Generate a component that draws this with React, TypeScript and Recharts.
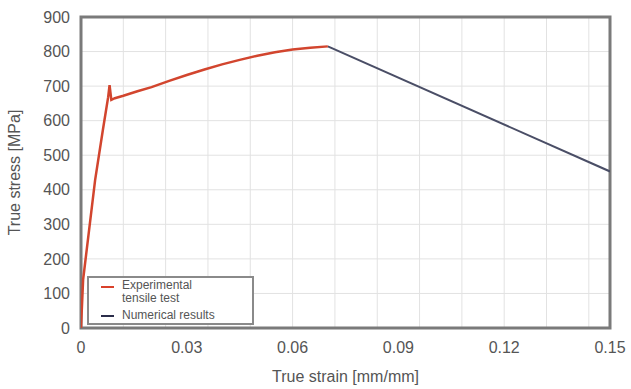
import React from "react";
import {
  ComposedChart,
  Line,
  XAxis,
  YAxis,
  CartesianGrid,
  ReferenceArea,
} from "recharts";

// Experimental tensile test (true strain, true stress)
const expStrain = [0, 0.0006, 0.0023, 0.004, 0.0062, 0.0077, 0.0081, 0.0086, 0.0096, 0.012, 0.016, 0.02, 0.025, 0.03, 0.035, 0.04, 0.045, 0.05, 0.055, 0.06, 0.065, 0.07];
const expStress = [0, 140, 284, 428, 573, 668, 703, 660, 665, 672, 685, 697, 715, 732, 748, 763, 776, 788, 798, 806, 811, 815];

// Numerical results
const numStrain = [0.07, 0.15];
const numStress = [815, 453];

const xTicks = [0, 0.03, 0.06, 0.09, 0.12, 0.15];
const xTickLabels = ["0", "0.03", "0.06", "0.09", "0.12", "0.15"];
const yTicks = [0, 100, 200, 300, 400, 500, 600, 700, 800, 900];
const xGrid = [0.006, 0.012, 0.018, 0.024, 0.03, 0.036, 0.042, 0.048, 0.054, 0.06, 0.066, 0.072, 0.078, 0.084, 0.09, 0.096, 0.102, 0.108, 0.114, 0.12, 0.126, 0.132, 0.138, 0.144];

const expData = expStrain.map((x, i) => ({ strain: x, stress: expStress[i] }));
const numData = numStrain.map((x, i) => ({ strain: x, stress: numStress[i] }));

const FONT = "'Liberation Sans', Arial, sans-serif";
const TEXT = "#555";

const LegendBox = () => (
  <div
    style={{
      position: "absolute",
      left: 87,
      top: 276,
      width: 167,
      height: 49,
      background: "#fff",
      border: "2px solid #8a8a8a",
      fontFamily: FONT,
      fontSize: 12,
      color: TEXT,
      lineHeight: "13px",
      boxSizing: "border-box",
      padding: "1px 0 0 12px",
    }}
  >
    <div style={{ display: "flex", alignItems: "flex-start" }}>
      <span style={{ width: 13, height: 2, background: "#d9412b", marginTop: 7, marginRight: 8 }} />
      <span>
        Experimental
        <br />
        tensile test
      </span>
    </div>
    <div style={{ display: "flex", alignItems: "center", marginTop: 4 }}>
      <span style={{ width: 13, height: 2, background: "#2b2d4a", marginRight: 8 }} />
      <span>Numerical results</span>
    </div>
  </div>
);

export default function App() {
  return (
    <div style={{ position: "absolute", left: 0, top: 0, width: 631, height: 389, background: "#fff" }}>
      <ComposedChart width={631} height={389} margin={{ top: 17, right: 21, left: 0, bottom: 0 }}>
        <CartesianGrid
          stroke="#e2e2e2"
          strokeWidth={1}
          verticalValues={xGrid}
          horizontalValues={yTicks}
        />
        <XAxis
          type="number"
          dataKey="strain"
          domain={[0, 0.15]}
          ticks={xTicks}
          tickFormatter={(v: number) => xTickLabels[xTicks.indexOf(v)] ?? String(v)}
          axisLine={false}
          tickLine={false}
          tickSize={0}
          tickMargin={14}
          height={61}
          tick={{ fill: TEXT, fontSize: 16, fontFamily: FONT }}
          allowDataOverflow
          label={{ value: "True strain [mm/mm]", position: "insideBottom", offset: 7, fill: TEXT, fontSize: 16, fontFamily: FONT }}
        />
        <YAxis
          type="number"
          dataKey="stress"
          domain={[0, 900]}
          ticks={yTicks}
          axisLine={false}
          tickLine={false}
          tickSize={0}
          tickMargin={11}
          width={81}
          tick={{ fill: TEXT, fontSize: 16, fontFamily: FONT }}
          label={{ value: "True stress [MPa]", angle: -90, position: "insideLeft", offset: 14, fill: TEXT, fontSize: 16, fontFamily: FONT, style: { textAnchor: "middle" } }}
        />
        <ReferenceArea x1={0} x2={0.15} y1={0} y2={900} fill="none" stroke="#7a7a7a" strokeWidth={3} ifOverflow="visible" />
        <Line
          data={numData}
          dataKey="stress"
          type="linear"
          stroke="#4a4e66"
          strokeWidth={2}
          dot={false}
          isAnimationActive={false}
        />
        <Line
          data={expData}
          dataKey="stress"
          type="linear"
          stroke="#d2452e"
          strokeWidth={2.5}
          dot={false}
          isAnimationActive={false}
        />
      </ComposedChart>
      <LegendBox />
    </div>
  );
}
